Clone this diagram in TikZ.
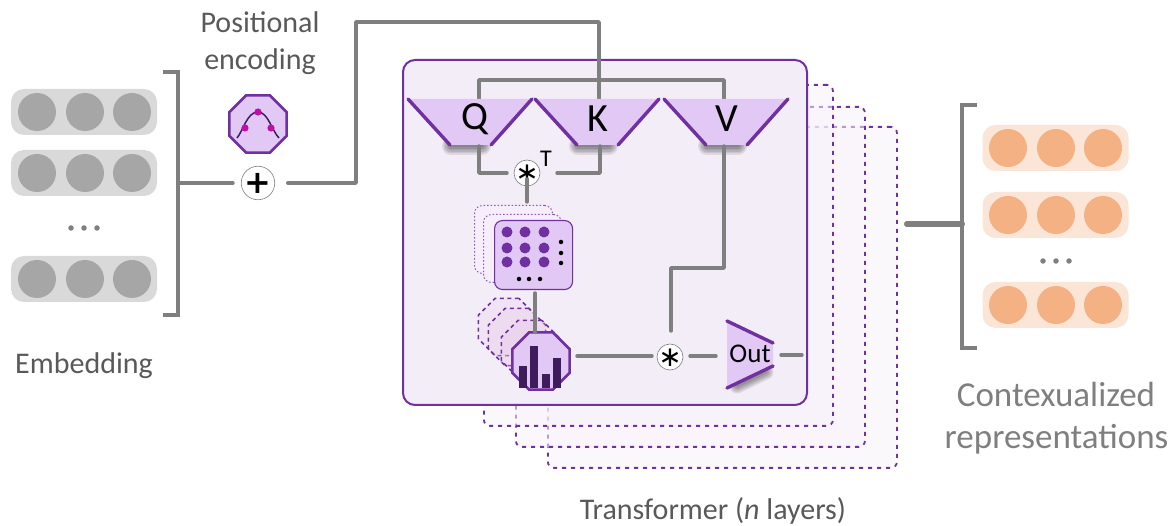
\documentclass[tikz,border=0pt]{standalone}
\usepackage{fontspec}
\setmainfont{Carlito}
\newfontfamily\symfont{DejaVu Sans}
\usetikzlibrary{shapes.geometric}
\definecolor{pur}{HTML}{7030A0}
\definecolor{lil}{HTML}{E1C8F5}
\definecolor{mainbg}{HTML}{F3EDF7}
\definecolor{stackbg}{HTML}{F7F2FA}
\definecolor{wire}{HTML}{7F7F7F}
\definecolor{pillg}{HTML}{D9D9D9}
\definecolor{dotg}{HTML}{A6A6A6}
\definecolor{pillo}{HTML}{FBE5D6}
\definecolor{doto}{HTML}{F4B183}
\definecolor{barc}{HTML}{3F1D5C}
\definecolor{txt}{HTML}{595959}
\definecolor{pinkdot}{HTML}{C00FA8}
\newcommand\fs[1]{\fontsize{#1}{#1}\selectfont}
\newcommand\astk{\raisebox{-10pt}[0pt][0pt]{\symfont\fs{28}\char"2217}}
\tikzset{
  wirel/.style={draw=wire,line width=3.4pt,line cap=round,line join=round},
  pill/.style={rectangle,rounded corners=13pt,minimum width=146pt,minimum height=46pt,inner sep=0pt},
  ball/.style={circle,minimum size=38pt,inner sep=0pt,outer sep=0pt},
  tiny/.style={circle,fill=wire,minimum size=5.5pt,inner sep=0pt},
  mdot/.style={circle,fill=pur,minimum size=11pt,inner sep=0pt},
  bdot/.style={circle,fill=black,minimum size=4.5pt,inner sep=0pt},
  op/.style={circle,draw=wire,fill=white,line width=.6pt,minimum size=26pt,inner sep=0pt,outer sep=0pt},
  stackbox/.style={rectangle,fill=stackbg,fill opacity=.55,draw=pur,line width=1.8pt,dash pattern=on 4pt off 5pt,rounded corners=6pt,inner sep=0pt,anchor=north west},
  octa/.style={regular polygon,regular polygon sides=8,minimum size=62pt,inner sep=0pt,outer sep=0pt},
  ghost/.style={octa,draw=pur,line width=1.5pt,dash pattern=on 4pt off 3.5pt,fill=pink!25!lil,fill opacity=.25},
  card/.style={rectangle,rounded corners=8pt,minimum width=78pt,minimum height=68pt,inner sep=0pt,anchor=north west},
  ghostcard/.style={card,draw=pur!80,fill=lil!30,line width=1pt,dash pattern=on 1.5pt off 2pt},
  funnelname/.style={inner sep=0pt,outer sep=0pt,font=\fs{40}},
  sidel/.style={draw=pur,line width=3.4pt,line cap=round},
  lab/.style={text=txt,font=\fs{30},align=center,inner sep=0pt},
}
\newcommand\funnel[4]{% name, centre x, text, text x
  \foreach \w in {18,15,12,9,6,3}{\draw[line width=\w pt,draw=black,opacity=.09,line cap=round] (#2-19,146) -- (#2+12,146);}
  \fill[lil] (#2-62,99) -- (#2+62,99) -- (#2+21,145) -- (#2-20,145) -- cycle;
  \draw[sidel] (#2-62,99) -- (#2-20,145);
  \draw[sidel] (#2+62,99) -- (#2+21,145);
  \node[funnelname] (#1) at (#4,119) {#3};
}
\begin{document}
\begin{tikzpicture}[x=1pt,y=-1pt]
\useasboundingbox (0,0) rectangle (1171,526);
% --- left embedding
\foreach \n/\y in {a/112,b/173,c/279}{
  \node[pill,fill=pillg] (ep\n) at (84,\y) {};
  \foreach \i/\x in {1/37,2/85,3/132}{\node[ball,fill=dotg] (e\n\i) at (\x,\y) {};}
}
\foreach \i/\x in {1/71,2/84,3/97}{\node[tiny] (ed\i) at (\x,228) {};}
\coordinate (elt) at (163,72); \coordinate (elb) at (163,315);
\draw[draw=wire,line width=3.4pt] (elt) -| (178,315) -- (elb);
\node[lab] (embl) at (84,366) {Embedding};
% --- positional
\node[lab] (posl) at (260,22) {Positional};
\node[lab] (posm) at (260,62) {encoding};
\node[octa,draw=pur,fill=lil,line width=2.6pt] (pos) at (258,124) {};
\draw[barc,line width=1.5pt] (237,138) .. controls (243,131) and (247,112) .. (258,112) .. controls (268,112) and (272,131) .. (279,138);
\foreach \x/\y in {245/128,258/112,271/128}{\fill[pinkdot] (\x,\y) circle (3.6);}
\node[op] (plus) at (258,183) {\symfont\fs{32}\bfseries +};
\coordinate (ejoin) at (178,183);
\draw[wirel] (ejoin) -- (233,183);
% --- stacks
\node[stackbox,minimum width=349pt,minimum height=341pt] (s3) at (547,126) {};
\node[stackbox,minimum width=349pt,minimum height=340pt] (s2) at (515,106) {};
\node[stackbox,minimum width=349pt,minimum height=341pt] (s1) at (483,84) {};
\node[rectangle,rounded corners=12pt,fill=mainbg,draw=pur,line width=2pt,minimum width=404pt,minimum height=345pt,inner sep=0pt,outer sep=0pt] (main) at (605,232.5) {};
% --- connectors behind funnels
\coordinate (tQ) at (479,99); \coordinate (tK) at (599,99); \coordinate (tV) at (724,99);
\draw[wirel] (plus.east) ++(13,0) coordinate (pe) -- (356,183) -- (356,22) -| (tK);
\draw[wirel] (tQ) |- (724,80) -- (tV);
% --- funnels
\funnel{Q}{470}{Q}{475}
\funnel{K}{597}{K}{598}
\funnel{V}{726}{V}{727}
% --- matmul
\node[op] (st1) at (527,173) {\astk};
\node[inner sep=0pt,font=\fs{24}] (tl) at (546,159) {T};
\coordinate (bQ) at (479,146); \coordinate (bK) at (600,146); \coordinate (bV) at (724,146);
\draw[wirel] (bQ) |- (507,173);
\draw[wirel] (bK) |- (557,173);
% --- matrix
\coordinate (mtop) at (527,202);
\draw[wirel] ([yshift=7pt]st1.south) -- (mtop);
\node[ghostcard] (g1) at (474,205) {};
\node[ghostcard] (g2) at (483,214) {};
\node[card,draw=pur,fill=lil,line width=1.1pt,minimum height=69pt] (mat) at (494,220) {};
\foreach \x in {507,525,544}{\foreach \y in {232,248,262}{\node[mdot] at (\x,\y) {};}}
\foreach \y in {242,253,263}{\node[bdot] at (561,\y) {};}
\foreach \x in {519,529,540}{\node[bdot] at (\x,279) {};}
% --- attention octagons
\node[ghost] (o1) at (507,327) {};
\node[ghost] (o2) at (517,337) {};
\node[ghost] (o3) at (530,349) {};
\coordinate (mb) at (535,293);
\node[octa,draw=pur,fill=lil,line width=2.6pt] (att) at (541,361) {};
\draw[wirel] (mb) -- (att.north -| mb);
\foreach \x/\t/\w in {519/366/8,530/346/8,542/374/8,553/358/8}{\fill[barc] (\x,\t) rectangle (\x+\w,388);}
% --- output
\foreach \w in {15,12,9,6,3}{\draw[line width=\w pt,draw=black,opacity=.09,line cap=round] (737,386) -- (766,372);}
\fill[lil] (727,321) -- (773,343) -- (773,366) -- (727,388) -- cycle;
\draw[sidel] (727,321) -- (773,343);
\draw[sidel] (727,388) -- (773,366);
\node[inner sep=0pt,font=\fs{27}] (out) at (750,354) {Out};
\node[op] (st2) at (670,357) {\astk};
\coordinate (vm) at (671,331);
\draw[wirel] (bV) |- (671,268) -- (vm);
\coordinate (a1) at (577,356); \coordinate (a2) at (652,356);
\draw[wirel] (a1) -- (a2);
\coordinate (b1) at (690,356); \coordinate (b2) at (716,356);
\draw[wirel] (b1) -- (b2);
\coordinate (c1) at (781,355); \coordinate (c2) at (802,355);
\draw[wirel] (c1) -- (c2);
% --- right
\coordinate (rlt) at (977,105); \coordinate (rlb) at (977,348);
\draw[draw=wire,line width=3.8pt] (rlt) -| (962,348) -- (rlb);
\coordinate (rs) at (907,224); \coordinate (rj) at (962,224);
\draw[draw=wire,line width=6pt,line cap=round] (rs) -- (rj);
\foreach \n/\y in {a/148,b/215,c/305}{
  \node[pill,fill=pillo] (rp\n) at (1055.5,\y) {};
  \foreach \i/\x in {1/1008,2/1056,3/1103}{\node[ball,fill=doto] (r\n\i) at (\x,\y) {};}
}
\foreach \i/\x in {1/1043,2/1056,3/1069}{\node[tiny] (rd\i) at (\x,261) {};}
\node[inner sep=0pt,text=wire,font=\fs{35},align=center] (rl1) at (1056,394) {Contexualized};
\node[inner sep=0pt,text=wire,font=\fs{35},align=center] (rl2) at (1056.5,439) {representations};
\node[lab,font=\fs{30}] (tr) at (713,511) {Transformer (\textit{n} layers)};
\end{tikzpicture}
\end{document}
